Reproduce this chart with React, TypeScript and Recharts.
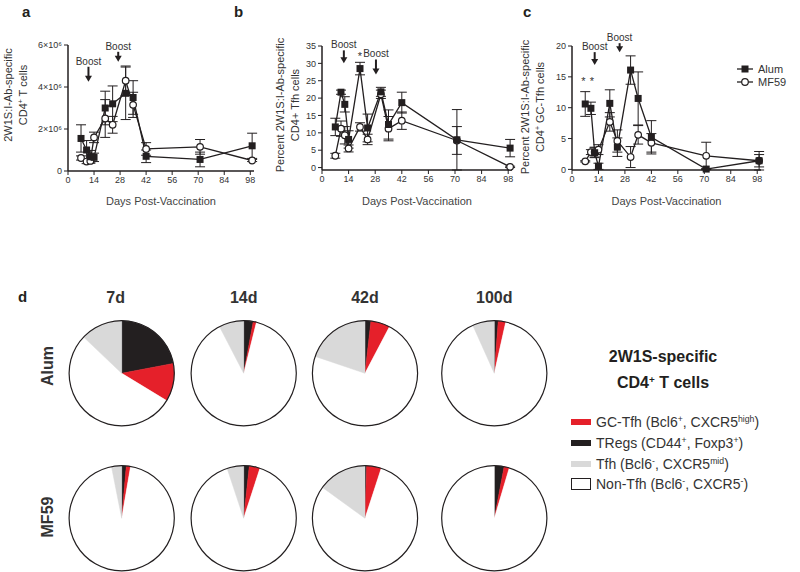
import React from "react";
import {
  LineChart,
  Line,
  XAxis,
  YAxis,
  ErrorBar,
  ReferenceDot,
  PieChart,
  Pie,
  Cell,
} from "recharts";

// sampling days (shared by a, b, c)
const DAYS = [7, 10, 12, 14, 20, 24, 31, 35, 42, 71, 99];
const DAY_TICKS = [0, 14, 28, 42, 56, 70, 84, 98];

// a: 2W1S:I-Ab-specific CD4+ T cells (x10^6)
const ALUM_A = [1.55, 1.0, 0.68, 0.65, 3.0, 3.2, 3.7, 3.5, 0.7, 0.55, 1.2];
const ALUM_A_ERR = [0.65, 0.45, 0.3, 0.2, 0.8, 0.85, 1.25, 0.8, 0.3, 0.35, 0.6];
const MF59_A = [0.62, 0.45, 0.48, 1.6, 2.5, 2.2, 4.3, 3.15, 1.05, 1.15, 0.5];
const MF59_A_ERR = [0.1, 0.1, 0.1, 0.25, 0.9, 0.4, 0.7, 0.6, 0.3, 0.35, 0.05];

// b: percent Tfh
const ALUM_B = [11.7, 21.7, 18.2, 8.1, 28.5, 11.4, 21.8, 12.4, 18.7, 8, 5.6];
const ALUM_B_ERR = [2.5, 0.6, 2.2, 2.5, 1.8, 4, 1.3, 4.2, 3, 8.7, 2.5];
const MF59_B = [3.4, 11.2, 9.3, 5.5, 11.7, 8.1, 21.1, 11.2, 13.5, 7.8, 0.2];
const MF59_B_ERR = [0.7, 2.2, 2.5, 1, 1.2, 1.5, 1.2, 3.5, 2.5, 4, 0.2];

// c: percent GC-Tfh
const ALUM_C = [10.6, 9.9, 2.7, 0.5, 10.7, 3.6, 16.1, 11.5, 5.2, 0.05, 1.4];
const ALUM_C_ERR = [2, 1, 0.8, 0.5, 2.2, 1.5, 2.3, 4.3, 2.7, 0.1, 1.5];
const MF59_C = [1.3, 2.8, 2.8, 3.2, 7.7, 4.6, 2.0, 5.6, 4.3, 2.2, 1.4];
const MF59_C_ERR = [0.1, 0.4, 0.8, 0.8, 1.5, 1.8, 1.7, 1.5, 1.5, 2.2, 1];

// boost arrows: day, value at arrow tip, arrow length
const BOOSTS_A = [
  { day: 11, y: 4.25, len: 15 },
  { day: 27, y: 5.2, len: 10 },
];
const BOOSTS_B = [
  { day: 11.5, y: 30, len: 13 },
  { day: 28.4, y: 26.8, len: 15 },
];
const BOOSTS_C = [
  { day: 12, y: 16.9, len: 13 },
  { day: 25.2, y: 19, len: 9 },
];
const STARS_B = [{ day: 20, y: 32.4 }];
const STARS_C = [
  { day: 6, y: 14.5 },
  { day: 10.5, y: 14.5 },
];

// d: pie slices, clockwise from 12 o'clock
const POP_NAMES = ["TRegs", "GC-Tfh", "Non-Tfh", "Tfh"];
const POP_COLORS = ["#231f20", "#e5202a", "#ffffff", "#d9d9d9"];
const TIMEPOINTS = ["7d", "14d", "42d", "100d"];
const ALUM_PIES = [
  [22, 11.7, 53.4, 12.9],
  [2.9, 1.0, 88.5, 7.6],
  [1.8, 5.9, 72.5, 19.8],
  [1.2, 2.3, 89.8, 6.7],
];
const MF59_PIES = [
  [1.4, 1.3, 94.2, 3.1],
  [1.7, 3.3, 89.9, 5.1],
  [0.5, 4.5, 80, 15],
  [3.0, 1.6, 95.4, 0],
];

const INK = "#231f20";
const TEXT = "#333";
const FONT = '"Liberation Sans", Arial, sans-serif';

const buildRows = (alum: number[], alumErr: number[], mf: number[], mfErr: number[]) =>
  DAYS.map((day, i) => ({
    day,
    alum: alum[i],
    alumErr: alumErr[i],
    mf59: mf[i],
    mf59Err: mfErr[i],
  }));

const squareDot = (p: any) =>
  p.cx == null ? null : (
    <rect key={`sq-${p.index}`} x={p.cx - 3.5} y={p.cy - 3.5} width={7} height={7} fill={INK} />
  );

const circleDot = (p: any) =>
  p.cx == null ? null : (
    <circle key={`ci-${p.index}`} cx={p.cx} cy={p.cy} r={3.3} fill="#fff" stroke={INK} strokeWidth={1.2} />
  );

function Boost({ cx, cy, len }: any) {
  return (
    <g>
      <text x={cx} y={cy - len - 2} textAnchor="middle" fontSize={10} fill={TEXT} fontFamily={FONT}>
        Boost
      </text>
      <line x1={cx} y1={cy - len} x2={cx} y2={cy - 5} stroke={INK} strokeWidth={2} />
      <polygon points={`${cx - 3.5},${cy - 6} ${cx + 3.5},${cy - 6} ${cx},${cy}`} fill={INK} />
    </g>
  );
}

function Star({ cx, cy }: any) {
  return (
    <text x={cx} y={cy + 5} textAnchor="middle" fontSize={11} fill={TEXT} fontFamily={FONT}>
      *
    </text>
  );
}

interface PanelProps {
  rows: any[];
  left: number;
  top: number;
  xHeight: number;
  yWidth: number;
  right: number;
  yMax: number;
  yTicks: number[];
  yFmt?: (v: number) => string;
  boosts: { day: number; y: number; len: number }[];
  stars: { day: number; y: number }[];
}

function TimeCourse(p: PanelProps) {
  const tick = { fontSize: 9, fill: TEXT, fontFamily: FONT };
  return (
    <div style={{ position: "absolute", left: p.left, top: 0 }}>
      <LineChart
        width={270}
        height={210}
        data={p.rows}
        margin={{ top: p.top, right: p.right, bottom: 0, left: 0 }}
      >
        <XAxis
          dataKey="day"
          type="number"
          domain={[0, 100]}
          ticks={DAY_TICKS}
          height={p.xHeight}
          tick={tick}
          tickSize={4}
          axisLine={{ stroke: INK, strokeWidth: 1.5 }}
          tickLine={{ stroke: INK }}
          label={{
            value: "Days Post-Vaccination",
            position: "insideBottom",
            offset: 5,
            fontSize: 11,
            fill: "#444",
            fontFamily: FONT,
          }}
        />
        <YAxis
          type="number"
          domain={[0, p.yMax]}
          ticks={p.yTicks}
          width={p.yWidth}
          tickFormatter={p.yFmt}
          tick={tick}
          tickSize={4}
          axisLine={{ stroke: INK, strokeWidth: 1.5 }}
          tickLine={{ stroke: INK }}
        />
        <Line
          dataKey="mf59"
          type="linear"
          stroke={INK}
          strokeWidth={1.3}
          dot={circleDot}
          activeDot={false}
          isAnimationActive={false}
        >
          <ErrorBar dataKey="mf59Err" width={5} stroke={INK} strokeWidth={1} />
        </Line>
        <Line
          dataKey="alum"
          type="linear"
          stroke={INK}
          strokeWidth={1.3}
          dot={squareDot}
          activeDot={false}
          isAnimationActive={false}
        >
          <ErrorBar dataKey="alumErr" width={5} stroke={INK} strokeWidth={1} />
        </Line>
        {p.boosts.map((b) => (
          <ReferenceDot
            key={`b-${b.day}`}
            x={b.day}
            y={b.y}
            shape={(s: any) => <Boost cx={s.cx} cy={s.cy} len={b.len} />}
          />
        ))}
        {p.stars.map((s) => (
          <ReferenceDot
            key={`s-${s.day}`}
            x={s.day}
            y={s.y}
            shape={(d: any) => <Star cx={d.cx} cy={d.cy} />}
          />
        ))}
      </LineChart>
    </div>
  );
}

const abs = (left: number, top: number, extra: React.CSSProperties = {}): React.CSSProperties => ({
  position: "absolute",
  left,
  top,
  whiteSpace: "nowrap",
  ...extra,
});

function YTitle({ x, y, children }: { x: number; y: number; children: React.ReactNode }) {
  return (
    <div
      style={abs(x, y, {
        transform: "translate(-50%, -50%) rotate(-90deg)",
        fontSize: 11,
        lineHeight: "15px",
        textAlign: "center",
        color: TEXT,
      })}
    >
      {children}
    </div>
  );
}

const sup = (s: string) => (
  <sup style={{ fontSize: "0.62em", lineHeight: 0, verticalAlign: "0.55em" }}>{s}</sup>
);

const PIE_X = [121.7, 243.7, 365, 494.3];
const PIE_Y = [73.3, 218.3];

const LEGEND_ITEMS = [
  { color: POP_COLORS[1], hollow: false, label: <>GC-Tfh (Bcl6{sup("+")}, CXCR5{sup("high")})</> },
  { color: POP_COLORS[0], hollow: false, label: <>TRegs (CD44{sup("+")}, Foxp3{sup("+")})</> },
  { color: POP_COLORS[3], hollow: false, label: <>Tfh (Bcl6{sup("-")}, CXCR5{sup("mid")})</> },
  { color: "#fff", hollow: true, label: <>Non-Tfh (Bcl6{sup("-")}, CXCR5{sup("-")})</> },
];

export default function App() {
  const pies = [ALUM_PIES, MF59_PIES].flatMap((rowPies, r) =>
    rowPies.flatMap((vals, c) => [
      <Pie
        key={`p-${r}-${c}`}
        data={vals.map((v, i) => ({ name: POP_NAMES[i], value: v }))}
        dataKey="value"
        nameKey="name"
        cx={PIE_X[c]}
        cy={PIE_Y[r]}
        outerRadius={52.5}
        startAngle={90}
        endAngle={-270}
        isAnimationActive={false}
      >
        {vals.map((_, i) => (
          <Cell key={`c-${i}`} fill={POP_COLORS[i]} stroke={POP_COLORS[i]} strokeWidth={0.5} />
        ))}
      </Pie>,
      <Pie
        key={`r-${r}-${c}`}
        data={[{ value: 1 }]}
        dataKey="value"
        cx={PIE_X[c]}
        cy={PIE_Y[r]}
        innerRadius={52}
        outerRadius={53.2}
        startAngle={90}
        endAngle={-270}
        fill={INK}
        stroke="none"
        isAnimationActive={false}
      />,
    ])
  );

  return (
    <div
      style={{
        position: "absolute",
        left: 0,
        top: 0,
        width: 800,
        height: 572,
        background: "#fff",
        fontFamily: FONT,
        color: TEXT,
      }}
    >
      <TimeCourse
        rows={buildRows(ALUM_A, ALUM_A_ERR, MF59_A, MF59_A_ERR)}
        left={0}
        top={45}
        xHeight={39}
        yWidth={68}
        right={16}
        yMax={6}
        yTicks={[0, 2, 4, 6]}
        yFmt={(v) => (v === 0 ? "0" : `${v}×10⁶`)}
        boosts={BOOSTS_A}
        stars={[]}
      />
      <TimeCourse
        rows={buildRows(ALUM_B, ALUM_B_ERR, MF59_B, MF59_B_ERR)}
        left={265}
        top={46}
        xHeight={40}
        yWidth={57}
        right={23}
        yMax={35}
        yTicks={[0, 5, 10, 15, 20, 25, 30, 35]}
        boosts={BOOSTS_B}
        stars={STARS_B}
      />
      <TimeCourse
        rows={buildRows(ALUM_C, ALUM_C_ERR, MF59_C, MF59_C_ERR)}
        left={530}
        top={46}
        xHeight={40}
        yWidth={42}
        right={39}
        yMax={20}
        yTicks={[0, 5, 10, 15, 20]}
        boosts={BOOSTS_C}
        stars={STARS_C}
      />

      <YTitle x={16} y={95}>
        2W1S:I-Ab-specific
        <br />
        CD4{sup("+")} T cells
      </YTitle>
      <YTitle x={287.5} y={105}>
        Percent 2W1S:I-Ab-specific
        <br />
        CD4+ Tfh cells
      </YTitle>
      <YTitle x={532.5} y={107}>
        Percent 2W1S:I-Ab-specific
        <br />
        CD4{sup("+")} GC-Tfh cells
      </YTitle>

      {/* series legend for c */}
      {[
        { name: "Alum", dot: squareDot },
        { name: "MF59", dot: circleDot },
      ].map((it, i) => (
        <div key={it.name} style={abs(736, 63 + i * 13.3, { display: "flex", alignItems: "center", fontSize: 11 })}>
          <svg width={18} height={12}>
            <line x1={1} y1={6} x2={17} y2={6} stroke={INK} strokeWidth={1.3} />
            {it.dot({ cx: 9, cy: 6, index: i })}
          </svg>
          <span style={{ marginLeft: 4 }}>{it.name}</span>
        </div>
      ))}

      {/* panel letters */}
      {[
        { t: "a", x: 22, y: 3 },
        { t: "b", x: 234, y: 3 },
        { t: "c", x: 523, y: 3 },
        { t: "d", x: 18, y: 288 },
      ].map((l) => (
        <div key={l.t} style={abs(l.x, l.y, { fontSize: 15, fontWeight: "bold", color: INK })}>
          {l.t}
        </div>
      ))}

      {/* pies */}
      <div style={{ position: "absolute", left: 0, top: 300 }}>
        <PieChart width={800} height={272} margin={{ top: 0, right: 0, bottom: 0, left: 0 }}>
          {pies}
        </PieChart>
      </div>

      {TIMEPOINTS.map((t, i) => (
        <div
          key={t}
          style={abs(PIE_X[i] + (i === 0 ? -6 : 0), 298, {
            transform: "translate(-50%, -50%)",
            fontSize: 16,
            fontWeight: "bold",
          })}
        >
          {t}
        </div>
      ))}
      {["Alum", "MF59"].map((g, i) => (
        <div
          key={g}
          style={abs(48, i === 0 ? 366 : 517, {
            transform: "translate(-50%, -50%) rotate(-90deg)",
            fontSize: 16,
            fontWeight: "bold",
          })}
        >
          {g}
        </div>
      ))}

      {/* pie legend */}
      <div
        style={abs(663, 370, {
          transform: "translate(-50%, -50%)",
          fontSize: 16,
          fontWeight: "bold",
          lineHeight: "26px",
          textAlign: "center",
          color: INK,
        })}
      >
        2W1S-specific
        <br />
        CD4{sup("+")} T cells
      </div>
      {LEGEND_ITEMS.map((it, i) => (
        <div
          key={i}
          style={abs(571, 421.7 + i * 20.9, {
            transform: "translateY(-50%)",
            display: "flex",
            alignItems: "center",
            fontSize: 14,
          })}
        >
          <span
            style={{
              display: "inline-block",
              width: it.hollow ? 18 : 20,
              height: it.hollow ? 10 : 6,
              background: it.color,
              border: it.hollow ? `1.5px solid ${INK}` : "none",
              marginRight: 5,
            }}
          />
          <span>{it.label}</span>
        </div>
      ))}
    </div>
  );
}
